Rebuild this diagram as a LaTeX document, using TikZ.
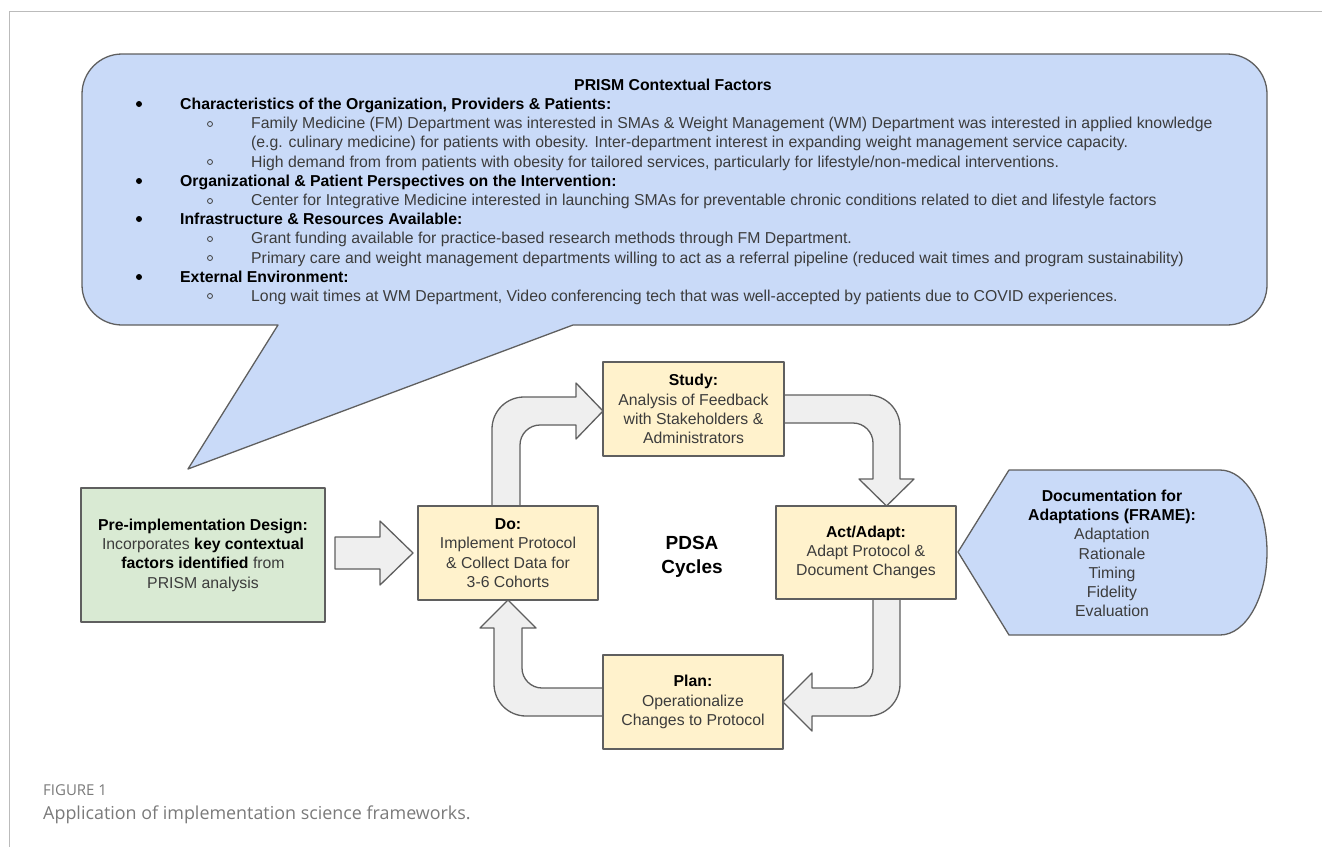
\documentclass[tikz,border=0pt]{standalone}
\usepackage{fontspec}
\setmainfont{Liberation Sans}
\newfontfamily\capfont{Open Sans}
\definecolor{calloutblue}{HTML}{C9DAF8}
\definecolor{greenfill}{HTML}{D9EAD3}
\definecolor{yellowfill}{HTML}{FFF2CC}
\definecolor{arrowgrey}{HTML}{EFEFEF}
\definecolor{edgegrey}{HTML}{5F5F5F}
\definecolor{bodygrey}{HTML}{3C3C3C}
\definecolor{capgrey}{HTML}{7A7A7A}
\definecolor{framegrey}{HTML}{BBBBBB}
\begin{document}
\begin{tikzpicture}[x=1pt,y=-1pt,
  outl/.style={draw=edgegrey, line width=1.3pt, line join=round},
  pbox/.style={outl, rectangle, inner sep=0pt, align=center, text=bodygrey,
    font=\fontsize{15.8}{19.3}\selectfont},
  blockarrow/.style={outl, fill=arrowgrey},
  ln/.style={anchor=base west, inner sep=0pt},
  headln/.style={ln, text=black, font=\fontsize{15.8}{19}\selectfont\bfseries},
  subln/.style={ln, text=bodygrey, font=\fontsize{15.8}{19}\selectfont},
  fdot/.style={circle, fill=black, inner sep=0pt, minimum size=6pt},
  odot/.style={circle, draw=bodygrey, line width=0.8pt, inner sep=0pt, minimum size=5pt}
]
\path[use as bounding box] (0,0) rectangle (1322,847);

% figure frame
\draw[framegrey, line width=1pt] (1322,11) -- (9,11) -- (9,847);

% callout with tail
\path[outl, fill=calloutblue]
  (278,325) -- (188,469) -- (573,325) -- (1227,325)
  .. controls (1249,325) and (1267,307) .. (1267,285) -- (1267,94)
  .. controls (1267,72) and (1249,54) .. (1227,54) -- (122,54)
  .. controls (100,54) and (82,72) .. (82,94) -- (82,285)
  .. controls (82,307) and (100,325) .. (122,325) -- cycle;

% callout text
\node[anchor=base, inner sep=0pt, font=\fontsize{15.8}{19}\selectfont\bfseries] (title) at (673,90.5) {PRISM Contextual Factors};
\node[fdot] (b1) at (139,104) {};
\node[headln] (h1) at (180,109.5) {Characteristics of the Organization, Providers \& Patients:};
\node[odot] (c1) at (210,124) {};
\node[subln] (s1a) at (251,128.7) {Family Medicine (FM) Department was interested in SMAs \& Weight Management (WM) Department was interested in applied knowledge};
\node[subln] (s1b) at (251,147.9) {(e.g. culinary medicine) for patients with obesity. Inter-department interest in expanding weight management service capacity.};
\node[odot] (c2) at (210,162) {};
\node[subln] (s1c) at (251,167.1) {High demand from from patients with obesity for tailored services, particularly for lifestyle/non-medical interventions.};
\node[fdot] (b2) at (139,181) {};
\node[headln] (h2) at (180,186.3) {Organizational \& Patient Perspectives on the Intervention:};
\node[odot] (c3) at (210,201) {};
\node[subln] (s2) at (251,205.5) {Center for Integrative Medicine interested in launching SMAs for preventable chronic conditions related to diet and lifestyle factors};
\node[fdot] (b3) at (139,219) {};
\node[headln] (h3) at (180,224.7) {Infrastructure \& Resources Available:};
\node[odot] (c4) at (210,239) {};
\node[subln] (s3a) at (251,243.9) {Grant funding available for practice-based research methods through FM Department.};
\node[odot] (c5) at (210,258) {};
\node[subln] (s3b) at (251,263.1) {Primary care and weight management departments willing to act as a referral pipeline (reduced wait times and program sustainability)};
\node[fdot] (b4) at (139,277) {};
\node[headln] (h4) at (180,282.3) {External Environment:};
\node[odot] (c6) at (210,296) {};
\node[subln] (s4) at (251,301.5) {Long wait times at WM Department, Video conferencing tech that was well-accepted by patients due to COVID experiences.};

% block arrows
\path[blockarrow] (335,537) -- (380,537) -- (380,521) -- (413,553) -- (380,585) -- (380,569) -- (335,569) -- cycle;
\path[blockarrow] (492,506) -- (492,429) .. controls (492,411.3) and (506.3,397) .. (524,397)
  -- (576,397) -- (576,383) -- (603,411) -- (576,439) -- (576,425) -- (540,425)
  .. controls (529,425) and (520,434) .. (520,445) -- (520,506) -- cycle;
\path[blockarrow] (784,395) -- (868,395) .. controls (885.7,395) and (900,409.3) .. (900,427)
  -- (900,479) -- (914,479) -- (886.5,506) -- (859,479) -- (873,479) -- (873,443)
  .. controls (873,432) and (864,423) .. (853,423) -- (784,423) -- cycle;
\path[blockarrow] (873,599) -- (900,599) -- (900,684) .. controls (900,701.7) and (885.7,716) .. (868,716)
  -- (812,716) -- (812,731) -- (783,702) -- (812,673) -- (812,688) -- (853,688)
  .. controls (864,688) and (873,679) .. (873,668) -- cycle;
\path[blockarrow] (603,688) -- (603,716) -- (526,716) .. controls (508.3,716) and (494,701.7) .. (494,684)
  -- (494,628) -- (480,628) -- (508,600) -- (536,628) -- (522,628) -- (522,668)
  .. controls (522,679) and (531,688) .. (542,688) -- cycle;

% boxes
\node[pbox, fill=greenfill, minimum width=244pt, minimum height=134pt] (pre) at (203,555)
  {{\bfseries\color{black}Pre-implementation Design:}\\Incorporates {\bfseries\color{black}key contextual}\\{\bfseries\color{black}factors identified} from\\PRISM analysis};
\node[pbox, fill=yellowfill, minimum width=180pt, minimum height=94pt] (do) at (508,553)
  {{\bfseries\color{black}Do:}\\Implement Protocol\\\& Collect Data for\\3-6 Cohorts};
\node[pbox, fill=yellowfill, minimum width=181pt, minimum height=94pt] (study) at (693.5,409)
  {{\bfseries\color{black}Study:}\\Analysis of Feedback\\with Stakeholders \&\\Administrators};
\node[pbox, fill=yellowfill, minimum width=180pt, minimum height=93pt] (act) at (866,552.5)
  {{\bfseries\color{black}Act/Adapt:}\\Adapt Protocol \&\\Document Changes};
\node[pbox, fill=yellowfill, minimum width=180pt, minimum height=94pt] (plan) at (693,702)
  {{\bfseries\color{black}Plan:}\\Operationalize\\Changes to Protocol};
\node[align=center, inner sep=0pt, font=\fontsize{19}{24}\selectfont\bfseries] (pdsa) at (692,557) {PDSA\\Cycles};

% documentation shape
\path[outl, fill=calloutblue] (958,552) -- (1009,470) -- (1220,470)
  .. controls (1246,470) and (1267,507) .. (1267,552)
  .. controls (1267,597) and (1246,635) .. (1220,635) -- (1009,635) -- cycle;
\node[align=center, inner sep=0pt, text=bodygrey, font=\fontsize{15.8}{19.2}\selectfont] (doc) at (1112,553.5)
  {{\bfseries\color{black}Documentation for}\\{\bfseries\color{black}Adaptations (FRAME):}\\Adaptation\\Rationale\\Timing\\Fidelity\\Evaluation};

% caption
\node[ln, text=capgrey, font=\capfont\fontsize{15}{17}\selectfont] (figlabel) at (43,795) {FIGURE 1};
\node[ln, text=capgrey, font=\capfont\fontsize{17.9}{20}\selectfont] (caption) at (43,819) {Application of implementation science frameworks.};
\end{tikzpicture}
\end{document}
